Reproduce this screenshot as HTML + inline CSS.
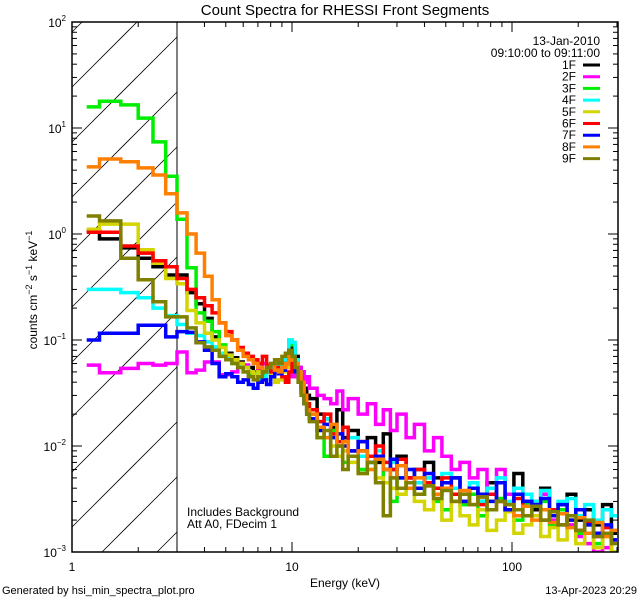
<!DOCTYPE html>
<html><head><meta charset="utf-8"><style>
html,body{margin:0;padding:0;background:#fff;width:640px;height:600px;overflow:hidden}
svg{display:block;font-family:"Liberation Sans",sans-serif}
</style></head><body>
<svg id="chart" width="640" height="600" viewBox="0 0 640 600" xmlns="http://www.w3.org/2000/svg">
<rect width="640" height="600" fill="#fff"/>
<text x="345" y="15" font-size="15" text-anchor="middle">Count Spectra for RHESSI Front Segments</text>
<defs><clipPath id="pc"><rect x="72" y="22" width="546" height="530"/></clipPath></defs>
<g id="hatch"></g>
<line x1="177" y1="22" x2="177" y2="552" stroke="#000" stroke-width="1"/>
<g id="series" clip-path="url(#pc)"></g>
<g id="axes"></g>
<g id="legend">
<text x="600" y="45" font-size="12" text-anchor="end">13-Jan-2010</text>
<text x="600" y="57" font-size="12" text-anchor="end">09:10:00 to 09:11:00</text>
</g>
<text x="187" y="516" font-size="12">Includes Background</text>
<text x="187" y="528" font-size="12">Att A0, FDecim 1</text>
<text x="345" y="587" font-size="12" text-anchor="middle">Energy (keV)</text>
<text transform="translate(37,290) rotate(-90)" font-size="12" text-anchor="middle">counts cm<tspan font-size="9" dy="-5">−2</tspan><tspan dy="5"> s</tspan><tspan font-size="9" dy="-5">−1</tspan><tspan dy="5"> keV</tspan><tspan font-size="9" dy="-5">−1</tspan></text>
<text x="2" y="594" font-size="11">Generated by hsi_min_spectra_plot.pro</text>
<text x="637" y="594" font-size="11" text-anchor="end">13-Apr-2023 20:29</text>
</svg>
<script>
const edges=[7/6];for(let k=4;k<=36;k++)edges.push(k/3);
[13,14,15,16,17,18,20,22,24,26,28,30,33,36,40,44,48,53,58,64,70,77,85,93,102,112,123,135,148,162,178,195,214,235,258,283,300].forEach(e=>edges.push(e));
const segNames=["1F","2F","3F","4F","5F","6F","7F","8F","9F"];
const segColors=["#000000","#ff00ff","#00ee00","#00ffff","#d4d400","#ff0000","#0000ff","#ff7f00","#808000"];
const s1F=[1.07,0.9,0.74,0.59,0.49,0.41, 0.41,0.28,0.22,0.16,0.107,0.086, 0.075,0.068,0.062,0.058,0.055,0.05,0.052,0.048,0.05,0.055,0.058,0.052,0.056,0.06,0.075,0.085,0.07,0.055,0.05,0.035,0.03, 0.028,0.02,0.018,0.015,0.022,0.012,0.014,0.009,0.012,0.007,0.013,0.006,0.008,0.005,0.006,0.007,0.005,0.004,0.005,0.0035,0.004,0.003,0.0045,0.003,0.0035,0.0055,0.003,0.0025,0.004,0.0022,0.0028,0.0035,0.002,0.0025,0.0018,0.0028,0.0015];
const s2F=[0.058,0.049,0.054,0.06,0.058,0.06, 0.077,0.049,0.052,0.062,0.062,0.047, 0.047,0.05,0.06,0.058,0.045,0.05,0.055,0.06,0.052,0.058,0.05,0.055,0.06,0.062,0.055,0.045,0.05,0.055,0.05,0.04,0.045, 0.035,0.03,0.028,0.025,0.033,0.022,0.028,0.02,0.025,0.016,0.022,0.014,0.02,0.012,0.016,0.009,0.012,0.008,0.006,0.007,0.005,0.006,0.004,0.006,0.0035,0.004,0.003,0.003,0.0035,0.002,0.0025,0.0018,0.0014,0.0012,0.001,0.0011,0.0009];
const s3F=[15.8,17.9,16.5,12.4,7.4,3.5, 1.38,0.48,0.18,0.15,0.12,0.09, 0.07,0.06,0.055,0.05,0.048,0.045,0.05,0.048,0.052,0.055,0.06,0.05,0.055,0.065,0.1,0.09,0.06,0.045,0.035,0.025,0.022, 0.018,0.012,0.008,0.014,0.01,0.007,0.009,0.006,0.008,0.0045,0.006,0.003,0.005,0.004,0.0035,0.005,0.003,0.0025,0.004,0.0028,0.0035,0.0022,0.003,0.0032,0.0025,0.002,0.0028,0.0022,0.003,0.0018,0.0025,0.002,0.0015,0.0018,0.0012,0.0015,0.001];
const s4F=[0.3,0.3,0.28,0.25,0.2,0.17, 0.14,0.116,0.11,0.096,0.086,0.075, 0.068,0.062,0.058,0.055,0.05,0.048,0.042,0.045,0.05,0.055,0.06,0.055,0.058,0.07,0.1,0.095,0.065,0.05,0.04,0.03,0.025, 0.02,0.015,0.018,0.012,0.01,0.009,0.012,0.008,0.007,0.009,0.006,0.007,0.005,0.006,0.0045,0.005,0.004,0.0055,0.004,0.0035,0.0045,0.003,0.004,0.005,0.003,0.004,0.0035,0.003,0.0038,0.0025,0.003,0.0032,0.0022,0.0028,0.002,0.0025,0.0022];
const s5F=[1.11,1.24,1.24,0.71,0.53,0.38, 0.34,0.19,0.145,0.116,0.1,0.085, 0.072,0.065,0.06,0.055,0.05,0.045,0.05,0.052,0.055,0.045,0.04,0.042,0.05,0.055,0.065,0.06,0.05,0.04,0.035,0.03,0.022, 0.02,0.015,0.012,0.01,0.008,0.009,0.007,0.0055,0.006,0.005,0.0045,0.004,0.0035,0.0045,0.003,0.0025,0.0035,0.002,0.003,0.0022,0.0018,0.0025,0.0016,0.002,0.0024,0.0015,0.0018,0.0022,0.0014,0.0017,0.0013,0.002,0.0012,0.0015,0.0011,0.0014,0.001];
const s6F=[1.04,1.04,0.77,0.66,0.56,0.49, 0.38,0.30,0.25,0.21,0.18,0.145, 0.12,0.1,0.085,0.075,0.07,0.065,0.06,0.07,0.058,0.05,0.055,0.052,0.045,0.04,0.05,0.06,0.055,0.045,0.035,0.03,0.025, 0.022,0.017,0.02,0.013,0.011,0.015,0.009,0.011,0.008,0.01,0.007,0.006,0.0075,0.005,0.006,0.0045,0.004,0.005,0.0035,0.003,0.004,0.0028,0.0035,0.003,0.0025,0.0032,0.0022,0.0028,0.002,0.0025,0.0018,0.0022,0.0016,0.0019,0.0014,0.0017,0.0013];
const s7F=[0.1,0.116,0.116,0.138,0.138,0.107, 0.12,0.118,0.096,0.08,0.06,0.045, 0.048,0.045,0.04,0.042,0.038,0.035,0.04,0.042,0.038,0.045,0.05,0.048,0.052,0.06,0.08,0.07,0.05,0.04,0.032,0.025,0.02, 0.018,0.014,0.016,0.012,0.013,0.01,0.009,0.011,0.007,0.008,0.006,0.0075,0.005,0.006,0.004,0.0055,0.0035,0.0045,0.005,0.003,0.004,0.0035,0.003,0.0045,0.0025,0.0035,0.003,0.0028,0.0032,0.0022,0.0028,0.002,0.0025,0.0018,0.0015,0.0018,0.0013];
const s8F=[4.3,5.1,4.8,4.2,3.6,2.4, 1.58,1.0,0.66,0.4,0.24,0.145, 0.11,0.1,0.08,0.07,0.065,0.06,0.055,0.05,0.055,0.06,0.052,0.05,0.055,0.06,0.07,0.065,0.06,0.05,0.04,0.03,0.022, 0.02,0.015,0.012,0.016,0.01,0.011,0.008,0.009,0.006,0.0075,0.006,0.005,0.0065,0.004,0.005,0.0042,0.0035,0.004,0.003,0.0038,0.0028,0.0033,0.0025,0.003,0.0028,0.0022,0.0027,0.002,0.0025,0.0019,0.0023,0.0017,0.0021,0.0015,0.0019,0.0014,0.0016];
const s9F=[1.48,1.33,0.59,0.37,0.23,0.165, 0.165,0.13,0.094,0.086,0.08,0.07, 0.065,0.06,0.055,0.05,0.045,0.042,0.045,0.05,0.055,0.06,0.065,0.06,0.07,0.075,0.08,0.07,0.055,0.04,0.03,0.025,0.02, 0.017,0.012,0.014,0.008,0.01,0.006,0.008,0.0055,0.007,0.0045,0.0022,0.005,0.004,0.0045,0.0035,0.0042,0.0032,0.0038,0.003,0.0035,0.0028,0.0033,0.0025,0.003,0.0028,0.0025,0.0022,0.0027,0.002,0.0024,0.0018,0.0022,0.0016,0.002,0.0014,0.0015,0.0012];
const seriesData=[s1F,s2F,s3F,s4F,s5F,s6F,s7F,s8F,s9F];
const xTicks=[1,10,100];const xTickLabels=["1","10","100"];
const yExps=[-3,-2,-1,0,1,2];

const NS="http://www.w3.org/2000/svg";
const X0=72,X1=618,Y0=552,Y1=22;
const xDec=220, yMin=-3,yMax=2;
function xs(e){return X0+Math.log10(e)*xDec;}
function ys(v){return Y0-(Math.log10(v)-yMin)/(yMax-yMin)*(Y0-Y1);}
function mk(tag,attrs,parent){const el=document.createElementNS(NS,tag);for(const k in attrs)el.setAttribute(k,attrs[k]);parent.appendChild(el);return el;}

const hg=document.getElementById('hatch');
const HX1=177;
for(let c=Y1+10;c<Y0+(HX1-X0);c+=55){
  const t0=Math.max(0,c-Y0), t1=Math.min(HX1-X0,c-Y1);
  if(t1<=t0)continue;
  const l=mk('line',{x1:X0+t0,y1:c-t0,x2:X0+t1,y2:c-t1,stroke:'#000','stroke-width':0.8},hg);
  
  
}

const sg=document.getElementById('series');
seriesData.forEach((vals,si)=>{
  let d='';
  for(let i=0;i<vals.length;i++){
    const xa=xs(edges[i]),xb=xs(edges[i+1]),y=ys(vals[i]);
    d+=(i===0?'M':'L')+xa.toFixed(1)+','+y.toFixed(1)+'L'+xb.toFixed(1)+','+y.toFixed(1);
  }
  const p=mk('path',{d:d,fill:'none',stroke:segColors[si],'stroke-width':3.5,'stroke-linejoin':'miter'},sg);
  
  
});

const ag=document.getElementById('axes');
const frame=mk('rect',{x:X0,y:Y1,width:X1-X0,height:Y0-Y1,fill:'none',stroke:'#000','stroke-width':1.5},ag);


for(let dec=0;dec<=2;dec++){
  for(let m=1;m<=9;m++){
    const e=m*Math.pow(10,dec);if(e>300)break;
    const x=xs(e),len=m===1?10:5;
    mk('line',{x1:x,y1:Y0,x2:x,y2:Y0-len,stroke:'#000'},ag);
    mk('line',{x1:x,y1:Y1,x2:x,y2:Y1+len,stroke:'#000'},ag);
  }
}
xTicks.forEach((t,i)=>{
  const tx=mk('text',{x:xs(t),y:571,'font-size':12,'text-anchor':'middle'},ag);
  tx.textContent=xTickLabels[i];
  
  
});
for(let ex=-3;ex<2;ex++){
  for(let m=1;m<=9;m++){
    const y=ys(m*Math.pow(10,ex)),len=m===1?10:5;
    mk('line',{x1:X0,y1:y,x2:X0+len,y2:y,stroke:'#000'},ag);
    mk('line',{x1:X1,y1:y,x2:X1-len,y2:y,stroke:'#000'},ag);
  }
}
yExps.forEach(ex=>{
  const y=ys(Math.pow(10,ex));
  const tx=mk('text',{x:66,y:y+5,'font-size':12,'text-anchor':'end'},ag);
  
  
  tx.appendChild(document.createTextNode('10'));
  const sp=document.createElementNS(NS,'tspan');sp.setAttribute('font-size','8');sp.setAttribute('dy','-6');
  sp.textContent=ex<0?'−'+(-ex):String(ex);tx.appendChild(sp);
});

const lg=document.getElementById('legend');
segNames.forEach((n,i)=>{
  const y=65+i*11.7;
  const t=mk('text',{x:576,y:y+4,'font-size':12,'text-anchor':'end'},lg);
  t.textContent=n;
  
  
  const l=mk('line',{x1:583,y1:y,x2:600,y2:y,stroke:segColors[i],'stroke-width':3},lg);
  
  
});
</script>
</body></html>
